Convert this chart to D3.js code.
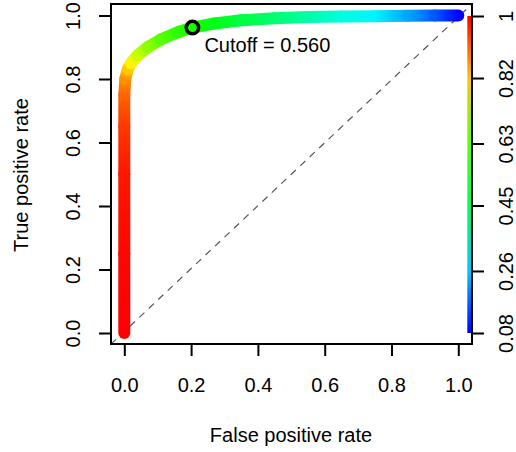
<!DOCTYPE html>
<html>
<head>
<meta charset="utf-8">
<script src="https://cdn.jsdelivr.net/npm/d3@7"></script>
<style>
  body { margin: 0; background: #fff; }
  text { font-family: "Liberation Sans", Arial, sans-serif; }
</style>
</head>
<body>
<svg></svg>
<script>
    // ROC curve points: false positive rate, true positive rate, cutoff
    fpr = [0, 0, 0, 0, 0, 0.003, 0.01, 0.02, 0.04, 0.07, 0.11, 0.16, 0.204, 0.27, 0.35, 0.45, 0.55, 0.65, 0.75, 0.85, 0.93, 1.0];
    tpr = [0, 0.25, 0.5, 0.65, 0.75, 0.80, 0.83, 0.85, 0.875, 0.90, 0.925, 0.947, 0.962, 0.975, 0.985, 0.991, 0.995, 0.997, 0.998, 0.999, 1.0, 1.0];
    cutoff = [1.0, 0.995, 0.98, 0.95, 0.91, 0.87, 0.82, 0.78, 0.72, 0.67, 0.62, 0.58, 0.56, 0.52, 0.48, 0.44, 0.39, 0.34, 0.30, 0.23, 0.16, 0.08];
    axisTicks = [0, 0.2, 0.4, 0.6, 0.8, 1.0];
    keyTicks = [0.08, 0.26, 0.45, 0.63, 0.82, 1];
    marked = {fpr: 0.204, tpr: 0.962, cutoff: 0.560};

    xs = d3.scaleLinear().domain([0,1]).range([124.3,458.3]);
    ys = d3.scaleLinear().domain([0,1]).range([333,15.5]);
    hue = d3.scaleLinear().domain([0.08,1]).range([240,0]);
    cs = function(c){ return d3.hsl(hue(c),1,0.5).toString(); };
    ks = d3.scaleLinear().domain([0.08,1]).range([333,16]);

    svg = d3.select("svg").attr("width",516).attr("height",452);
    defs = svg.append("defs");

    //diagonal reference line, corner to corner of the box
    svg.append("line")
    .attr("x1", xs(-0.04)).attr("y1", ys(-0.035))
    .attr("x2", xs(1.04)).attr("y2", ys(1.035))
    .attr("stroke", "#555").attr("stroke-width", 1.2).attr("stroke-dasharray", "7,6");

    //colored curve, one gradient segment per pair of points
    segs = d3.range(fpr.length-1);
    segs.forEach(function(i){
        g = defs.append("linearGradient").attr("id","seg"+i)
        .attr("gradientUnits","userSpaceOnUse")
        .attr("x1", xs(fpr[i])).attr("y1", ys(tpr[i]))
        .attr("x2", xs(fpr[i+1])).attr("y2", ys(tpr[i+1]));
        g.append("stop").attr("offset","0").attr("stop-color", cs(cutoff[i]));
        g.append("stop").attr("offset","1").attr("stop-color", cs(cutoff[i+1]));
    });
    svg.append("g").selectAll("line").data(segs).enter().append("line")
    .attr("x1", function(i){return xs(fpr[i]);})
    .attr("y1", function(i){return ys(tpr[i]);})
    .attr("x2", function(i){return xs(fpr[i+1]);})
    .attr("y2", function(i){return ys(tpr[i+1]);})
    .attr("stroke", function(i){return "url(#seg"+i+")";})
    .attr("stroke-width", 12)
    .attr("stroke-linecap", "round");

    //color key
    kg = defs.append("linearGradient").attr("id","key").attr("x1",0).attr("y1",1).attr("x2",0).attr("y2",0);
    keyTicks.forEach(function(c,i){
        kg.append("stop").attr("offset", (c-0.08)/0.92).attr("stop-color", cs(c));
    });
    svg.append("rect")
    .attr("x", 467.3).attr("y", ks(1)).attr("width", 4.2).attr("height", ks(0.08)-ks(1))
    .attr("fill", "url(#key)");

    //marked cutoff
    svg.append("circle")
    .attr("cx", xs(marked.fpr)).attr("cy", ys(marked.tpr)).attr("r", 6.2)
    .attr("fill", cs(marked.cutoff)).attr("stroke", "#000").attr("stroke-width", 3.5);
    svg.append("text")
    .attr("x", xs(marked.fpr)+12).attr("y", ys(marked.tpr)+24.5)
    .attr("font-size", 20)
    .text("Cutoff = " + d3.format(".3f")(marked.cutoff));

    //box
    svg.append("rect")
    .attr("x", 111).attr("y", 4).attr("width", 361).attr("height", 340)
    .attr("fill", "none").attr("stroke", "#000").attr("stroke-width", 2);

    //left axis
    la = svg.append("g").attr("transform", "translate(111,0)")
    .call(d3.axisLeft(ys).tickValues(axisTicks).tickSize(12).tickFormat(d3.format(".1f")));
    la.select(".domain").remove();
    la.selectAll("line").attr("stroke-width", 2);
    la.selectAll("text").attr("x", null).attr("dy", null)
    .attr("transform", "translate(-31,0) rotate(-90)")
    .attr("text-anchor", "middle").attr("font-size", 20).attr("fill", "#000");

    //bottom axis
    ba = svg.append("g").attr("transform", "translate(0,344)")
    .call(d3.axisBottom(xs).tickValues(axisTicks).tickSize(12).tickPadding(22).tickFormat(d3.format(".1f")));
    ba.select(".domain").remove();
    ba.selectAll("line").attr("stroke-width", 2);
    ba.selectAll("text").attr("font-size", 20).attr("fill", "#000");

    //right axis for the color key
    ra = svg.append("g").attr("transform", "translate(472,0)")
    .call(d3.axisRight(ks).tickValues(keyTicks).tickSize(12).tickFormat(function(d){return String(d);}));
    ra.select(".domain").remove();
    ra.selectAll("line").attr("stroke-width", 2);
    ra.selectAll("text").attr("x", null).attr("dy", null)
    .attr("transform", "translate(41,0) rotate(-90)")
    .attr("text-anchor", "middle").attr("font-size", 20).attr("fill", "#000");

    //axis titles
    svg.append("text")
    .attr("x", 291).attr("y", 442).attr("text-anchor", "middle").attr("font-size", 20)
    .text("False positive rate");
    svg.append("text")
    .attr("transform", "translate(28,175) rotate(-90)")
    .attr("text-anchor", "middle").attr("font-size", 20)
    .text("True positive rate");
</script>
</body>
</html>
